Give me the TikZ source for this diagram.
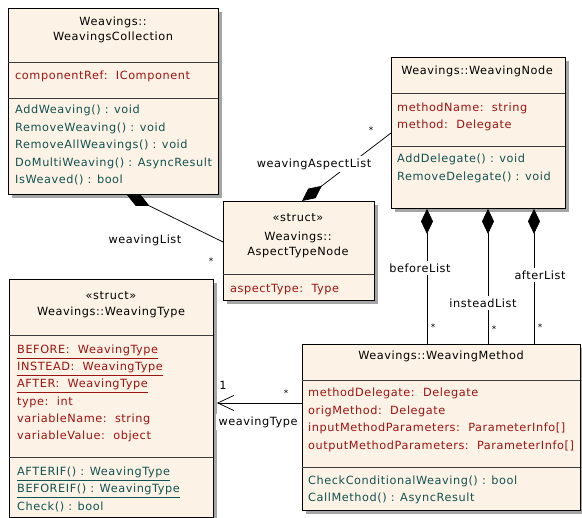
\documentclass[tikz,border=0pt]{standalone}
\usepackage{fontspec}
\setmainfont{DejaVu Sans}[LetterSpace=5]
\usetikzlibrary{calc,arrows.meta}
\definecolor{boxfill}{RGB}{252,242,229}
\definecolor{attrc}{RGB}{158,18,18}
\definecolor{operc}{RGB}{18,82,82}
\definecolor{shadowc}{RGB}{165,165,165}
\definecolor{divc}{RGB}{60,60,60}
\tikzset{
  umlbox/.style={draw=black, fill=boxfill, line width=0.9pt, inner sep=0pt, anchor=north west},
  divider/.style={draw=divc, line width=0.8pt},
  txt/.style={font=\fontsize{11.3}{13}\selectfont, inner sep=0pt, anchor=base west},
  attrtxt/.style={txt, text=attrc},
  opertxt/.style={txt, text=operc},
  ttl/.style={txt, anchor=base, text=black},
  lbl/.style={font=\fontsize{11.3}{13}\selectfont, fill=white, inner sep=3pt, anchor=center},
  mult/.style={font=\fontsize{9}{10}\selectfont, inner sep=0pt, anchor=center},
  conn/.style={draw=black, line width=0.75pt},
  comp/.style={conn, {Diamond[length=25pt,width=12pt]}-},
  nav/.style={conn, -{Straight Barb[length=16pt,width=15pt]}},
}
\newcommand\umlclass[5]{%
  \fill[shadowc] (#2+4,#3+4) rectangle (#4+4,#5+4);
  \node[umlbox, minimum width=#4pt-#2pt, minimum height=#5pt-#3pt] (#1) at (#2,#3) {};
}
\begin{document}
\begin{tikzpicture}[x=1pt,y=-1pt]
\fill[white] (0,0) rectangle (582,518);
\useasboundingbox (0,0) rectangle (582,518);

% ---------- WeavingsCollection
\umlclass{wc}{8}{8}{218}{194}
\draw[divider] (8,62) -- (218,62);
\draw[divider] (8,98) -- (218,98);
\node[ttl] (wc-t1) at (113,26) {Weavings::};
\node[ttl] (wc-t2) at (113,41) {WeavingsCollection};
\node[attrtxt] (wc-a1) at (15,80) {componentRef:\ \ IComponent};
\node[opertxt] (wc-o1) at (15,114) {AddWeaving() : void};
\node[opertxt] (wc-o2) at (15,132) {RemoveWeaving() : void};
\node[opertxt] (wc-o3) at (15,149) {RemoveAllWeavings() : void};
\node[opertxt] (wc-o4) at (15,167) {DoMultiWeaving() : AsyncResult};
\node[opertxt] (wc-o5) at (15,184) {IsWeaved() : bool};

% ---------- WeavingNode
\umlclass{wn}{391}{57}{565}{208}
\draw[divider] (391,93) -- (565,93);
\draw[divider] (391,146) -- (565,146);
\node[ttl] (wn-t1) at (477,75) {Weavings::WeavingNode};
\node[attrtxt] (wn-a1) at (397,112) {methodName:\ \ string};
\node[attrtxt] (wn-a2) at (397,129) {method:\ \ Delegate};
\node[opertxt] (wn-o1) at (397,163) {AddDelegate() : void};
\node[opertxt] (wn-o2) at (397,181) {RemoveDelegate() : void};

% ---------- AspectTypeNode
\umlclass{atn}{223}{201}{374}{300}
\draw[divider] (223,274) -- (374,274);
\node[ttl] (atn-t0) at (298,222) {«struct»};
\node[ttl] (atn-t1) at (298,241) {Weavings::};
\node[ttl] (atn-t2) at (298,256) {AspectTypeNode};
\node[attrtxt] (atn-a1) at (230,293) {aspectType:\ \ Type};

% ---------- WeavingType
\umlclass{wt}{9}{279}{213}{517}
\draw[divider] (9,335) -- (213,335);
\draw[divider] (9,457) -- (213,457);
\node[ttl] (wt-t0) at (111,300) {«struct»};
\node[ttl] (wt-t1) at (111,316) {Weavings::WeavingType};
\node[attrtxt] (wt-a1) at (17,354) {\underline{BEFORE:\ \ WeavingType}};
\node[attrtxt] (wt-a2) at (17,371) {\underline{INSTEAD:\ \ WeavingType}};
\node[attrtxt] (wt-a3) at (17,388) {\underline{AFTER:\ \ WeavingType}};
\node[attrtxt] (wt-a4) at (17,406) {type:\ \ int};
\node[attrtxt] (wt-a5) at (17,423) {variableName:\ \ string};
\node[attrtxt] (wt-a6) at (17,440) {variableValue:\ \ object};
\node[opertxt] (wt-o1) at (17,476) {\underline{AFTERIF() : WeavingType}};
\node[opertxt] (wt-o2) at (17,493) {\underline{BEFOREIF() : WeavingType}};
\node[opertxt] (wt-o3) at (17,511) {Check() : bool};

% ---------- WeavingMethod
\umlclass{wm}{302}{344}{580}{510}
\draw[divider] (302,380) -- (580,380);
\draw[divider] (302,467) -- (580,467);
\node[ttl] (wm-t1) at (441,360) {Weavings::WeavingMethod};
\node[attrtxt] (wm-a1) at (308,397) {methodDelegate:\ \ Delegate};
\node[attrtxt] (wm-a2) at (308,415) {origMethod:\ \ Delegate};
\node[attrtxt] (wm-a3) at (308,432) {inputMethodParameters:\ \ ParameterInfo[]};
\node[attrtxt] (wm-a4) at (308,450) {outputMethodParameters:\ \ ParameterInfo[]};
\node[opertxt] (wm-o1) at (308,485) {CheckConditionalWeaving() : bool};
\node[opertxt] (wm-o2) at (308,502) {CallMethod() : AsyncResult};

% ---------- connectors
\coordinate (c1s) at ($(wc.south west)+(119,0)$);
\coordinate (c1e) at ($(atn.north west)+(0,41)$);
\draw[comp] (c1s) -- (c1e);

\coordinate (c2s) at ($(atn.north west)+(79,0)$);
\coordinate (c2e) at ($(wn.north west)+(0,76)$);
\draw[comp] (c2s) -- (c2e);

\coordinate (d1) at ($(wn.south west)+(36,0)$);
\coordinate (d2) at ($(wn.south west)+(97,0)$);
\coordinate (d3) at ($(wn.south west)+(143,0)$);
\draw[comp] (d1) -- (d1 |- wm.north);
\draw[comp] (d2) -- (d2 |- wm.north);
\draw[comp] (d3) -- (d3 |- wm.north);

\coordinate (ns) at ($(wm.north west)+(0,59)$);
\coordinate (ne) at ($(wt.north east)+(3,124)$);
\draw[nav] (ns) -- (ne);

% ---------- labels
\node[lbl] (l-wl) at (145,240) {weavingList};
\node[mult] (m-wl) at (211,261) {*};
\node[lbl] (l-wal) at (314,164) {weavingAspectList};
\node[mult] (m-wal) at (371,130) {*};
\node[lbl] (l-bl) at (420,268) {beforeList};
\node[lbl] (l-al) at (540,275) {afterList};
\node[lbl] (l-il) at (483,303) {insteadList};
\node[mult] (m-bl) at (433,327) {*};
\node[mult] (m-il) at (494,329) {*};
\node[mult] (m-al) at (540,327) {*};
\node[txt, anchor=center] (m-one) at (223,385) {1};
\node[mult] (m-wt) at (286,393) {*};
\node[lbl] (l-wt) at (258,422) {weavingType};
\end{tikzpicture}
\end{document}
